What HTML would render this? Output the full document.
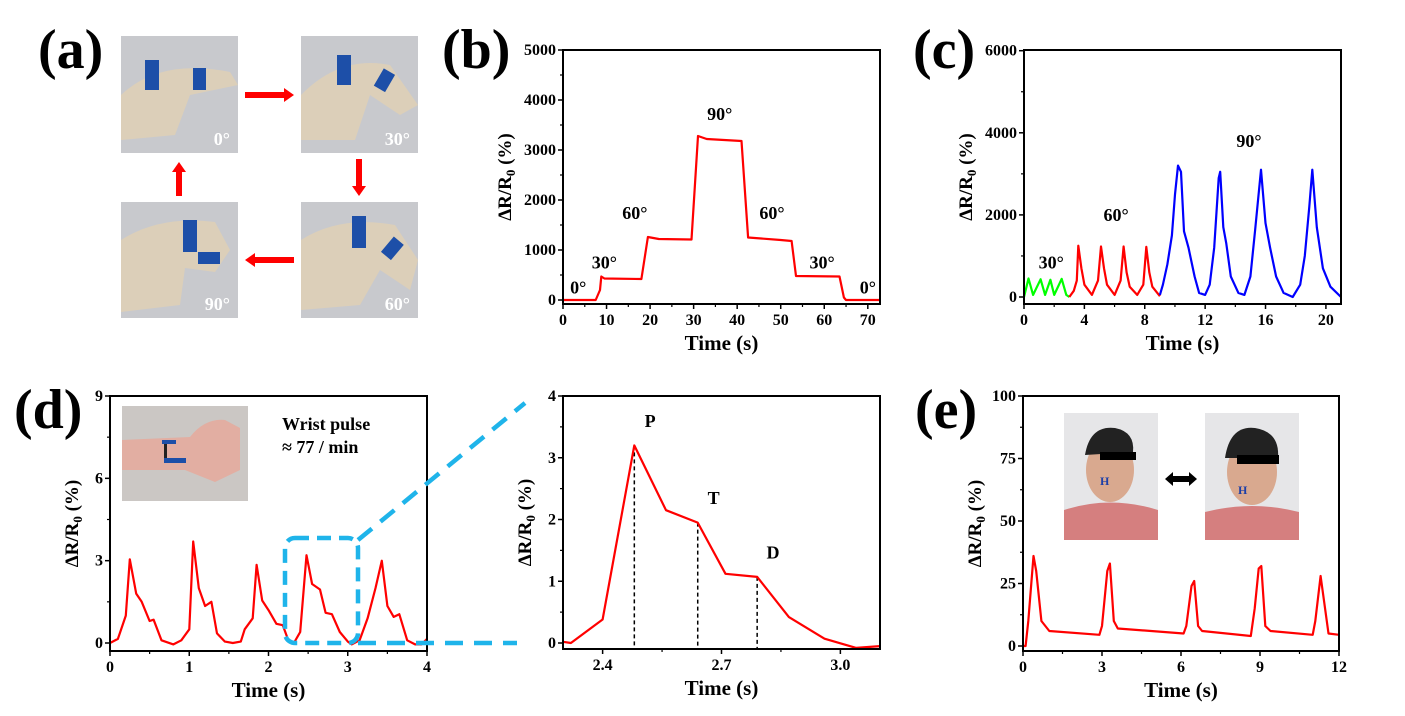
<!DOCTYPE html>
<html><head><meta charset="utf-8">
<style>
body{margin:0;background:#fff;}
svg text{font-family:"Liberation Serif",serif;font-weight:bold;fill:#000;}
</style></head>
<body>
<svg id="fig" width="1405" height="711" viewBox="0 0 1405 711" xmlns="http://www.w3.org/2000/svg">
<rect width="1405" height="711" fill="#fff"/>
<text x="38" y="68" font-size="56">(a)</text>
<text x="442" y="68" font-size="56">(b)</text>
<text x="913" y="68" font-size="56">(c)</text>
<text x="14" y="428" font-size="56">(d)</text>
<text x="915" y="428" font-size="56">(e)</text>

<g>
<rect x="121" y="36" width="117" height="117" fill="#c8c9cd"/>
<path d="M121 95 Q160 58 230 72 L238 85 L190 95 L175 135 L121 140 Z" fill="#dccfb9"/>
<rect x="145" y="60" width="14" height="30" fill="#1d4fa8"/><rect x="193" y="68" width="13" height="22" fill="#1d4fa8"/>
<text x="230" y="145" font-size="18" text-anchor="end" style="fill:#fff">0°</text></g>
<g>
<rect x="301" y="36" width="117" height="117" fill="#c8c9cd"/>
<path d="M301 95 Q340 55 390 65 L418 105 L400 115 L370 95 L355 140 L301 140 Z" fill="#dccfb9"/>
<rect x="337" y="55" width="14" height="30" fill="#1d4fa8"/><rect x="378" y="70" width="13" height="20" fill="#1d4fa8" transform="rotate(30 384 80)"/>
<text x="410" y="145" font-size="18" text-anchor="end" style="fill:#fff">30°</text></g>
<g>
<rect x="301" y="202" width="117" height="116" fill="#c8c9cd"/>
<path d="M301 240 Q340 215 395 225 L418 260 L410 290 L380 270 L360 305 L301 310 Z" fill="#dccfb9"/>
<rect x="352" y="216" width="14" height="32" fill="#1d4fa8"/><rect x="386" y="238" width="13" height="20" fill="#1d4fa8" transform="rotate(40 392 248)"/>
<text x="410" y="310" font-size="18" text-anchor="end" style="fill:#fff">60°</text></g>
<g>
<rect x="121" y="202" width="117" height="116" fill="#c8c9cd"/>
<path d="M121 240 Q160 215 215 222 L230 250 L215 272 L185 268 L180 305 L121 312 Z" fill="#dccfb9"/>
<rect x="183" y="220" width="14" height="32" fill="#1d4fa8"/><rect x="198" y="252" width="22" height="12" fill="#1d4fa8"/>
<text x="230" y="310" font-size="18" text-anchor="end" style="fill:#fff">90°</text></g>
<g fill="#f00">
<path d="M245 92 L284 92 L284 88 L294 95 L284 102 L284 98 L245 98 Z"/>
<path d="M356 159 L356 186 L352 186 L359 196 L366 186 L362 186 L362 159 Z"/>
<path d="M294 257 L255 257 L255 253 L245 260 L255 267 L255 263 L294 263 Z"/>
<path d="M176 196 L176 172 L172 172 L179 162 L186 172 L182 172 L182 196 Z"/>
</g>
<g>
<rect x="122" y="406" width="126" height="95" fill="#cbc7c4"/>
<path d="M122 440 L190 437 Q205 418 225 420 L240 428 L240 470 L215 482 L185 470 L122 470 Z" fill="#e2aea2"/>
<rect x="164" y="442" width="3" height="20" fill="#222"/><rect x="162" y="440" width="14" height="4" fill="#1d4fa8"/><rect x="164" y="458" width="22" height="5" fill="#1d4fa8"/>
</g>
<text x="282" y="430" font-size="18">Wrist pulse</text>
<text x="282" y="453" font-size="18">≈ 77 / min</text>
<g>
<rect x="1064" y="413" width="94" height="127" fill="#e6e6e8"/>
<ellipse cx="1110" cy="470" rx="24" ry="32" fill="#d9a98f"/><path d="M1085 455 Q1090 425 1115 428 Q1135 432 1133 452 Z" fill="#222"/>
<rect x="1100" y="452" width="36" height="8" fill="#000"/>
<path d="M1064 540 L1064 510 Q1110 495 1158 510 L1158 540 Z" fill="#d57f7f"/>
<text x="1100" y="485" font-size="12" style="fill:#1d3fa8">H</text></g>
<g>
<rect x="1205" y="413" width="94" height="127" fill="#e6e6e8"/>
<ellipse cx="1252" cy="472" rx="25" ry="33" fill="#d9a98f"/><path d="M1225 458 Q1230 425 1255 428 Q1280 432 1278 458 Z" fill="#222"/>
<rect x="1237" y="455" width="42" height="9" fill="#000"/>
<path d="M1205 540 L1205 512 Q1252 500 1299 512 L1299 540 Z" fill="#d57f7f"/>
<text x="1238" y="494" font-size="12" style="fill:#1d3fa8">H</text></g>
<path d="M1165 479 L1173 472 L1173 476 L1189 476 L1189 472 L1197 479 L1189 486 L1189 482 L1173 482 L1173 486 Z" fill="#000"/>
<g id="charts"></g>
</svg>
<script>
// Panel b data
const bT=[0,7.5,8.5,8.8,9.5,18,19.5,22,29.5,31,33,41,42.5,50,52.5,53.5,63.5,64.5,65,72.8];
const bV=[0,0,200,470,430,420,1260,1220,1210,3280,3220,3180,1250,1200,1180,480,470,50,0,0];
const bXTicks=[0,10,20,30,40,50,60,70];
const bYTicks=[0,1000,2000,3000,4000,5000];
// Panel c data
const cGreenT=[0,0.3,0.6,1.1,1.4,1.75,2.0,2.5,2.8,3.0];
const cGreenV=[0,450,50,430,50,420,50,440,50,0];
const cRedT=[3,3.3,3.5,3.6,3.8,4.0,4.5,4.9,5.1,5.3,5.5,6.0,6.4,6.6,6.8,7.0,7.5,7.9,8.1,8.3,8.5,9.0];
const cRedV=[0,150,400,1250,700,300,50,400,1230,700,300,50,400,1230,600,250,50,300,1220,600,250,20];
const cBlueT=[9,9.2,9.5,9.8,10.0,10.2,10.4,10.6,10.9,11.3,11.6,12.0,12.3,12.6,12.9,13.0,13.2,13.4,13.7,14.2,14.6,15.0,15.3,15.7,16.0,16.3,16.7,17.2,17.8,18.3,18.6,18.9,19.1,19.4,19.8,20.3,21.0];
const cBlueV=[50,300,800,1500,2500,3200,3050,1600,1200,500,100,50,300,1200,2900,3050,1700,1300,500,100,50,500,1600,3100,1800,1200,500,100,0,300,1000,2200,3100,1700,700,250,0];
const cXTicks=[0,4,8,12,16,20];
const cYTicks=[0,2000,4000,6000];
// Panel d (wrist) data
const dT=[0,0.1,0.2,0.25,0.33,0.4,0.5,0.55,0.65,0.8,0.9,1.0,1.05,1.12,1.2,1.28,1.35,1.45,1.55,1.65,1.7,1.8,1.85,1.92,2.0,2.1,2.18,2.25,2.32,2.4,2.48,2.55,2.65,2.72,2.8,2.9,3.0,3.05,3.15,3.25,3.35,3.43,3.5,3.58,3.65,3.75,3.85,3.93,4.0];
const dV=[0,0.15,1.0,3.05,1.8,1.5,0.8,0.85,0.1,-0.05,0.1,0.5,3.7,2.0,1.35,1.5,0.35,0.05,0,0.05,0.5,0.9,2.85,1.55,1.2,0.7,0.65,0.1,0,0.4,3.2,2.15,1.95,1.1,1.05,0.4,0.05,-0.05,0.1,0.9,2.0,3.0,1.35,0.95,1.05,0.1,-0.05,-0.05,0.15];
const dXTicks=[0,1,2,3,4];
const dYTicks=[0,3,6,9];
// Panel d zoom data
const zT=[2.3,2.32,2.4,2.48,2.56,2.64,2.71,2.79,2.87,2.96,3.04,3.1];
const zV=[0.02,0,0.38,3.2,2.15,1.95,1.12,1.07,0.42,0.07,-0.08,-0.05];
const zMarkT=[2.48,2.64,2.79];
const zMarkV=[3.2,1.95,1.07];
const zMarkLabels=["P","T","D"];
const zXTicks=[2.4,2.7,3.0];
const zYTicks=[0,1,2,3,4];
// Panel e data
const eT=[0,0.1,0.2,0.4,0.5,0.7,1.0,2.9,3.0,3.2,3.3,3.45,3.6,6.1,6.2,6.4,6.5,6.65,6.8,8.65,8.8,8.95,9.05,9.2,9.4,11.0,11.1,11.3,11.6,12];
const eV=[0,0,10,36,30,10,6,4.5,8,30,33,10,7,5,8,24,26,8,6,4,15,31,32,8,6,4.5,10,28,5,4.5];
const eXTicks=[0,3,6,9,12];
const eYTicks=[0,25,50,75,100];

const NS="http://www.w3.org/2000/svg";
const root=document.getElementById('charts');
function mk(tag,attrs,parent){const e=document.createElementNS(NS,tag);for(const k in attrs)e.setAttribute(k,attrs[k]);(parent||root).appendChild(e);return e;}

function chart(cfg){
  const g=mk('g',{});
  
  
  const sx=v=>cfg.L+(v-cfg.x0)/(cfg.x1-cfg.x0)*(cfg.R-cfg.L);
  const sy=v=>cfg.y0p+(v-cfg.y0)/(cfg.y1-cfg.y0)*(cfg.y1p-cfg.y0p);
  cfg.sx=sx;cfg.sy=sy;cfg.g=g;
  cfg.xTicks.forEach((t,i)=>{
    const x=sx(t);
    const tk=mk('line',{x1:x,x2:x,y1:cfg.B,y2:cfg.B+5,stroke:'#000','stroke-width':1.5},g);
    
    
    const tx=mk('text',{x:x,y:cfg.B+21,'font-size':16,'text-anchor':'middle'},g);
    tx.textContent=cfg.xFmt?cfg.xFmt(t):t;
    
    
    if(i<cfg.xTicks.length-1){const m=sx((t+cfg.xTicks[i+1])/2);
      mk('line',{x1:m,x2:m,y1:cfg.B,y2:cfg.B+3,stroke:'#000','stroke-width':1.2},g);}
  });
  cfg.yTicks.forEach((t,i)=>{
    const y=sy(t);
    const tk=mk('line',{x1:cfg.L-5,x2:cfg.L,y1:y,y2:y,stroke:'#000','stroke-width':1.5},g);
    
    
    const tx=mk('text',{x:cfg.L-7,y:y+5,'font-size':16,'text-anchor':'end'},g);
    tx.textContent=t;
    
    
    if(i<cfg.yTicks.length-1){const m=sy((t+cfg.yTicks[i+1])/2);
      mk('line',{x1:cfg.L-3,x2:cfg.L,y1:m,y2:m,stroke:'#000','stroke-width':1.2},g);}
  });
  const xt=mk('text',{x:(cfg.L+cfg.R)/2,y:cfg.B+46,'font-size':21,'text-anchor':'middle'},g);
  xt.textContent='Time (s)';
  
  
  const cy=(cfg.T+cfg.B)/2, cx=cfg.L-cfg.yTitleOff;
  const yt=mk('text',{x:cx,y:cy,'font-size':19,'text-anchor':'middle',transform:`rotate(-90 ${cx} ${cy})`},g);
  yt.innerHTML='ΔR/R<tspan font-size="13" dy="4">0</tspan><tspan dy="-4"> (%)</tspan>';
  
  
  return cfg;
}
function series(cfg,T,V,color,name){
  const d=T.map((t,i)=>(i?'L':'M')+cfg.sx(t).toFixed(1)+' '+cfg.sy(V[i]).toFixed(1)).join(' ');
  const p=mk('path',{d:d,fill:'none',stroke:color,'stroke-width':2.2,'stroke-linejoin':'round'},cfg.g);
  
  
}
function frame(cfg){
  const f=mk('rect',{x:cfg.L,y:cfg.T,width:cfg.R-cfg.L,height:cfg.B-cfg.T,fill:'none',stroke:'#000','stroke-width':2},cfg.g);
  
  
}
function label(cfg,x,y,txt,size){
  const t=mk('text',{x:cfg.sx(x),y:cfg.sy(y),'font-size':size||18,'text-anchor':'middle'},cfg.g);
  t.textContent=txt;
  
  
}

const B=chart({name:'chart-b',L:563,R:880,T:50,B:304,x0:0,x1:72.8,y0:0,y1:5000,y0p:300,y1p:50,xTicks:bXTicks,yTicks:bYTicks,yTitleOff:52});
series(B,bT,bV,'#f00','angle-step-series');
frame(B);
[[3.5,130,'0°'],[9.5,630,'30°'],[16.5,1620,'60°'],[36,3600,'90°'],[48,1620,'60°'],[59.5,630,'30°'],[70,130,'0°']].forEach(a=>label(B,a[0],a[1],a[2]));
const C=chart({name:'chart-c',L:1024,R:1341,T:50,B:304,x0:0,x1:21,y0:0,y1:6000,y0p:297,y1p:50.7,xTicks:cXTicks,yTicks:cYTicks,yTitleOff:52});
series(C,cGreenT,cGreenV,'#0f0','series-30deg');
series(C,cRedT,cRedV,'#f00','series-60deg');
series(C,cBlueT,cBlueV,'#00f','series-90deg');
frame(C);
label(C,1.8,700,'30°');label(C,6.1,1850,'60°');label(C,14.9,3650,'90°');
const D=chart({name:'chart-d-wrist',L:110,R:427,T:396,B:651,x0:0,x1:4,y0:0,y1:9,y0p:643,y1p:396,xTicks:dXTicks,yTicks:dYTicks,yTitleOff:32});
series(D,dT,dV,'#f00','wrist-pulse-series');
frame(D);
const zb=mk('g',{});


mk('rect',{x:285,y:538,width:73,height:105,rx:10,fill:'none',stroke:'#1fb4ea','stroke-width':4.5,'stroke-dasharray':'14 8'},zb);
mk('line',{x1:358,y1:540,x2:525,y2:403,stroke:'#1fb4ea','stroke-width':4.5,'stroke-dasharray':'18 11'},zb);
mk('line',{x1:358,y1:643,x2:517,y2:643,stroke:'#1fb4ea','stroke-width':4.5,'stroke-dasharray':'18 11'},zb);
const Z=chart({name:'chart-d-zoom',L:563,R:880,T:396,B:649,x0:2.3,x1:3.1,y0:0,y1:4,y0p:643,y1p:396,xTicks:zXTicks,yTicks:zYTicks,yTitleOff:32,xFmt:v=>v.toFixed(1)});
zMarkT.forEach((t,i)=>{
  const l=mk('line',{x1:Z.sx(t),x2:Z.sx(t),y1:Z.sy(zMarkV[i]),y2:Z.B,stroke:'#000','stroke-width':1.5,'stroke-dasharray':'4 3'},Z.g);
  
  
  label(Z,t+0.04,zMarkV[i]+0.3,zMarkLabels[i],18);
});
series(Z,zT,zV,'#f00','pulse-waveform-series');
frame(Z);
const E=chart({name:'chart-e',L:1023,R:1339,T:396,B:651,x0:0,x1:12,y0:0,y1:100,y0p:646,y1p:396,xTicks:eXTicks,yTicks:eYTicks,yTitleOff:42});
series(E,eT,eV,'#f00','facial-series');
frame(E);
</script>
</body></html>
